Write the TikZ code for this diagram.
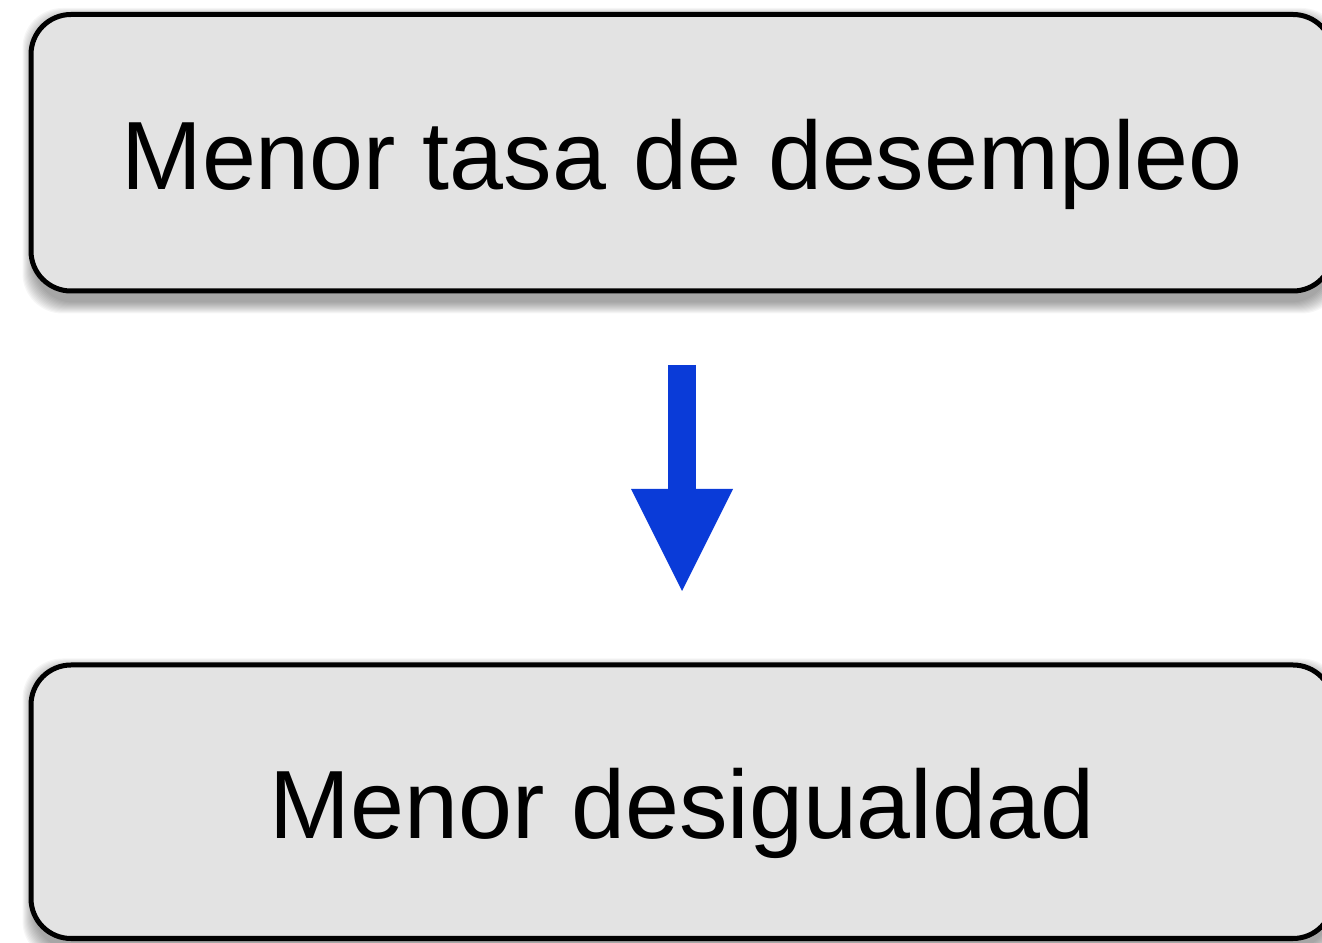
\documentclass[tikz,border=0pt]{standalone}
\usepackage{fontspec}
\setmainfont{Liberation Sans}
\usetikzlibrary{arrows.meta,backgrounds}
\definecolor{boxfill}{HTML}{E3E3E3}
\definecolor{arrowblue}{HTML}{0A3BD8}
\begin{document}
\begin{tikzpicture}[x=1pt,y=1pt,
  box/.style={draw=black, line width=5pt, fill=boxfill, rounded corners=40pt,
    minimum width=1302pt, inner sep=0pt, text height=90pt, text depth=16.5pt,
    font=\fontsize{97}{107}\selectfont},
  flow/.style={arrowblue, line width=28pt,
    -{Triangle[length=102pt,width=102pt,line width=0pt]},
    shorten <=71.5pt, shorten >=71.5pt},
  shade/.style={black, fill opacity=0.035, rounded corners=40pt}]
\useasboundingbox (0,0) rectangle (1322,942);
\node[box, minimum height=276.5pt] (top) at (682,789.25) {Menor tasa de desempleo};
\node[box, minimum height=273.5pt] (bot) at (682,140.25) {Menor desigualdad};
\draw[flow] (top) -- (bot);
\begin{pgfonlayer}{background}
\foreach \r in {1,...,12}{
  \fill[shade] ([shift={(6-\r,-8-\r)}]top.south west) rectangle ([shift={(\r-6,\r-8)}]top.north east);
  \fill[shade] ([shift={(6-\r,-8-\r)}]bot.south west) rectangle ([shift={(\r-6,\r-8)}]bot.north east);
}
\end{pgfonlayer}
\end{tikzpicture}
\end{document}
